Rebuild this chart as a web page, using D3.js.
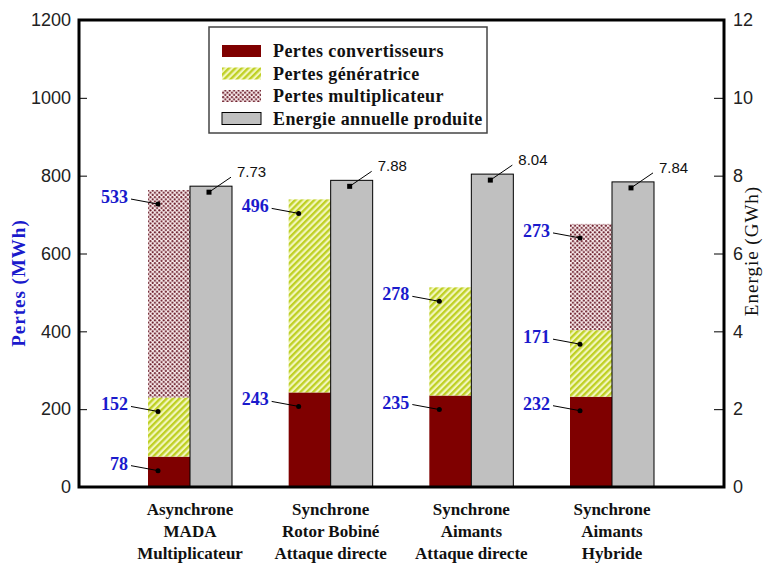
<!DOCTYPE html>
<html lang="fr">
<head>
<meta charset="UTF-8">
<title>Pertes et énergie</title>
<script src="https://d3js.org/d3.v7.min.js"></script>
<style>
    body {margin: 0; background: white;}
    svg {display: block;}
    .serif {font-family: "Liberation Serif", "Times New Roman", serif;}
    .axis text {font-family: "Liberation Sans", Arial, sans-serif; font-size: 18px; fill: #222;}
    .axis path, .axis line {stroke: black;}
</style>
</head>
<body>
<script>
    const width = 771;
    const height = 566;

    // data
    const categories = [
        ["Asynchrone", "MADA", "Multiplicateur"],
        ["Synchrone", "Rotor Bobiné", "Attaque directe"],
        ["Synchrone", "Aimants", "Attaque directe"],
        ["Synchrone", "Aimants", "Hybride"]
    ];
    const convertisseurs = [78, 243, 235, 232];   // MWh
    const generatrice    = [152, 496, 278, 171];  // MWh
    const multiplicateur = [533, 0, 0, 273];      // MWh
    const energie        = [7.73, 7.88, 8.04, 7.84]; // GWh
    const leftTicks  = [0, 200, 400, 600, 800, 1000, 1200];
    const rightTicks = [0, 2, 4, 6, 8, 10, 12];
    const legendLabels = ["Pertes convertisseurs", "Pertes génératrice",
                          "Pertes multiplicateur", "Energie annuelle produite"];

    const margin = {left: 79, right: 47, top: 20, bottom: 79};
    const plotW = width - margin.left - margin.right;
    const plotH = height - margin.top - margin.bottom;

    const svg = d3.select("body").append("svg")
            .attr("width", width).attr("height", height);
    const defs = svg.append("defs");

    // hatch for generator losses
    const hatch = defs.append("pattern").attr("id", "hatch")
            .attr("patternUnits", "userSpaceOnUse")
            .attr("width", 4.5).attr("height", 4.5)
            .attr("patternTransform", "rotate(45)");
    hatch.append("rect").attr("width", 4.5).attr("height", 4.5).attr("fill", "#f2f6bc");
    hatch.append("rect").attr("width", 2.3).attr("height", 4.5).attr("fill", "#bfd024");

    // dots for gearbox losses
    const dots = defs.append("pattern").attr("id", "dots")
            .attr("patternUnits", "userSpaceOnUse")
            .attr("width", 4.4).attr("height", 4.4);
    dots.append("rect").attr("width", 4.4).attr("height", 4.4).attr("fill", "#fbeeee");
    dots.append("circle").attr("cx", 1.1).attr("cy", 1.1).attr("r", 1.05).attr("fill", "#6a1c2a");
    dots.append("circle").attr("cx", 3.3).attr("cy", 3.3).attr("r", 1.05).attr("fill", "#6a1c2a");

    const g = svg.append("g").attr("transform", `translate(${margin.left},${margin.top})`);

    const x = d3.scalePoint()
            .domain(d3.range(categories.length))
            .range([111, 533]);
    const barW = 42;
    const y = d3.scaleLinear().domain([0, 1200]).range([plotH, 0]);
    const yR = d3.scaleLinear().domain([0, 12]).range([plotH, 0]);

    const series = [
        {key: "conv", values: convertisseurs, fill: "#7f0000"},
        {key: "gen", values: generatrice, fill: "url(#hatch)"},
        {key: "mult", values: multiplicateur, fill: "url(#dots)"}
    ];

    // stacked loss bars
    const segments = [];
    categories.forEach((c, i) => {
        let base = 0;
        series.forEach(s => {
            const v = s.values[i];
            if (v > 0) segments.push({i: i, y0: base, y1: base + v, v: v, fill: s.fill});
            base += v;
        });
    });

    g.selectAll("rect.loss")
            .data(segments).enter()
            .append("rect").attr("class", "loss")
            .attr("x", d => x(d.i) - barW)
            .attr("width", barW)
            .attr("y", d => y(d.y1))
            .attr("height", d => y(d.y0) - y(d.y1))
            .attr("fill", d => d.fill);

    // energy bars
    g.selectAll("rect.energy")
            .data(energie).enter()
            .append("rect").attr("class", "energy")
            .attr("x", (d, i) => x(i))
            .attr("width", barW)
            .attr("y", d => yR(d))
            .attr("height", d => plotH - yR(d))
            .attr("fill", "#c0c0c0")
            .attr("stroke", "black").attr("stroke-width", 1);

    // loss annotations
    const lossLab = g.selectAll("g.lossLab")
            .data(segments).enter()
            .append("g").attr("class", "lossLab")
            .attr("transform", d => `translate(${x(d.i) - barW + 10},${y(d.y1) + 14})`);
    lossLab.append("line")
            .attr("x1", -27).attr("y1", -5).attr("x2", 0).attr("y2", 0)
            .attr("stroke", "black").attr("stroke-width", 1);
    lossLab.append("circle").attr("r", 2.5).attr("fill", "black");
    lossLab.append("text").attr("class", "serif")
            .attr("x", -30).attr("y", -1)
            .attr("text-anchor", "end")
            .style("font-size", "18px").style("font-weight", "bold")
            .attr("fill", "#1a1acc")
            .text(d => d.v);

    // energy annotations
    const enLab = g.selectAll("g.enLab")
            .data(energie).enter()
            .append("g").attr("class", "enLab")
            .attr("transform", (d, i) => `translate(${x(i) + 19},${yR(d) + 6})`);
    enLab.append("line")
            .attr("x1", 0).attr("y1", 0).attr("x2", 22).attr("y2", -15)
            .attr("stroke", "black").attr("stroke-width", 1);
    enLab.append("rect").attr("x", -2.5).attr("y", -2.5).attr("width", 5).attr("height", 5)
            .attr("fill", "black");
    enLab.append("text")
            .attr("x", 28).attr("y", -15)
            .style("font-family", "Liberation Sans, Arial, sans-serif")
            .style("font-size", "15px")
            .attr("fill", "#111")
            .text(d => d.toFixed(2));

    // axes
    g.append("g").attr("class", "axis")
            .call(d3.axisLeft(y).tickValues(leftTicks).tickFormat(d3.format("d"))
                .tickSize(-8).tickPadding(8))
            .call(a => a.select(".domain").remove())
            .selectAll("line").attr("stroke-width", 1);
    g.append("g").attr("class", "axis")
            .attr("transform", `translate(${plotW},0)`)
            .call(d3.axisRight(yR).tickValues(rightTicks).tickFormat(d3.format("d"))
                .tickSize(-10).tickPadding(9))
            .call(a => a.select(".domain").remove())
            .selectAll("line").attr("stroke-width", 1);

    // frame
    g.append("rect")
            .attr("width", plotW).attr("height", plotH)
            .attr("fill", "none").attr("stroke", "black").attr("stroke-width", 3);

    // category labels
    const cat = g.selectAll("text.cat")
            .data(categories).enter()
            .append("text").attr("class", "cat serif")
            .attr("text-anchor", "middle")
            .style("font-size", "17px").style("font-weight", "bold")
            .attr("fill", "#111")
            .attr("transform", (d, i) => `translate(${x(i)},${plotH + 28})`);
    cat.selectAll("tspan")
            .data(d => d).enter()
            .append("tspan")
            .attr("x", 0)
            .attr("dy", (d, j) => j === 0 ? 0 : 22)
            .text(d => d);

    // axis titles
    svg.append("text").attr("class", "serif")
            .attr("transform", `translate(25,${283}) rotate(-90)`)
            .attr("text-anchor", "middle")
            .style("font-size", "19px").style("font-weight", "bold")
            .style("letter-spacing", "1px")
            .attr("fill", "#1a1acc")
            .text("Pertes (MWh)");
    svg.append("text").attr("class", "serif")
            .attr("transform", `translate(758,${251}) rotate(-90)`)
            .attr("text-anchor", "middle")
            .style("font-size", "19px")
            .style("letter-spacing", "1px")
            .attr("fill", "#111")
            .text("Energie (GWh)");

    // legend
    const legend = svg.append("g").attr("transform", "translate(209,27)");
    legend.append("rect")
            .attr("width", 278).attr("height", 106)
            .attr("fill", "white").attr("stroke", "#444").attr("stroke-width", 1.5);
    const legendFills = ["#7f0000", "url(#hatch)", "url(#dots)", "#c0c0c0"];
    const row = legend.selectAll("g.row")
            .data(legendLabels).enter()
            .append("g").attr("class", "row")
            .attr("transform", (d, i) => `translate(13,${24 + i * 22.5})`);
    row.append("rect")
            .attr("y", -6).attr("width", 39).attr("height", 12)
            .attr("fill", (d, i) => legendFills[i])
            .attr("stroke", (d, i) => i === 3 ? "black" : "none");
    row.append("text").attr("class", "serif")
            .attr("x", 51).attr("y", 6)
            .style("font-size", "18px").style("font-weight", "bold")
            .style("letter-spacing", "0.4px")
            .attr("fill", "#111")
            .text(d => d);
</script>
</body>
</html>
